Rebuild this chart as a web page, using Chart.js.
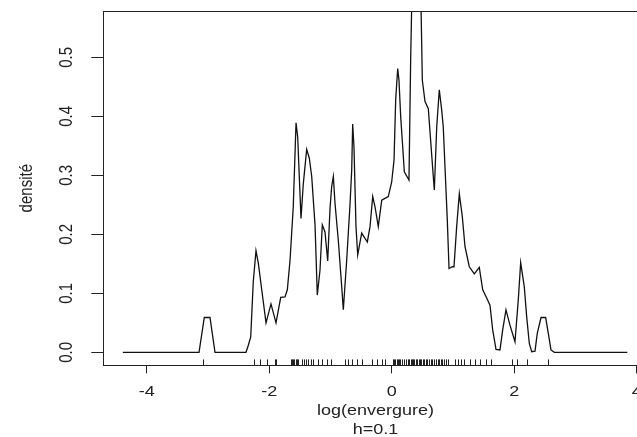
<!DOCTYPE html>
<html>
<head>
<meta charset="utf-8">
<script src="https://cdn.jsdelivr.net/npm/chart.js@4"></script>
<style>
  html, body { margin: 0; padding: 0; background: #fff; overflow: hidden; width: 637px; height: 437px; }
  #wrap { position: relative; width: 660px; height: 437px; }
  canvas { display: block; }
</style>
</head>
<body>
<div id="wrap"><canvas id="c" width="660" height="437"></canvas></div>
<script>
// Kernel density estimate of log(envergure), bandwidth h = 0.1
const densX = [
  -4.39, -3.146, -3.06, -2.967, -2.885, -2.379, -2.341, -2.302, -2.26, -2.216,
  -2.178, -2.122, -2.052, -1.971, -1.889, -1.812, -1.742, -1.704, -1.66, -1.607,
  -1.562, -1.535, -1.481, -1.443, -1.388, -1.345, -1.306, -1.252, -1.215, -1.171,
  -1.133, -1.089, -1.045, -1.007, -0.98, -0.953, -0.926, -0.872, -0.816, -0.79,
  -0.735, -0.681, -0.653, -0.637, -0.616, -0.583, -0.555, -0.49, -0.436, -0.398,
  -0.354, -0.31, -0.273, -0.219, -0.163, -0.109, -0.056, 0.0, 0.038, 0.065,
  0.098, 0.119, 0.147, 0.18, 0.206, 0.282, 0.31, 0.34, 0.397, 0.47,
  0.5, 0.544, 0.598, 0.679, 0.696, 0.735, 0.777, 0.816, 0.842, 0.882,
  0.908, 0.936, 0.989, 1.017, 1.061, 1.104, 1.153, 1.197, 1.267, 1.349,
  1.43, 1.486, 1.551, 1.605, 1.649, 1.703, 1.768, 1.812, 1.866, 1.931,
  2.013, 2.067, 2.106, 2.165, 2.204, 2.247, 2.286, 2.34, 2.377, 2.438,
  2.514, 2.557, 2.601, 2.655, 3.847
];
const densY = [
  0, 0, 0.059, 0.059, 0, 0, 0.012, 0.026, 0.12, 0.172,
  0.151, 0.106, 0.05, 0.082, 0.05, 0.093, 0.094, 0.106, 0.156, 0.247,
  0.389, 0.365, 0.227, 0.286, 0.344, 0.329, 0.298, 0.216, 0.097, 0.139,
  0.216, 0.204, 0.155, 0.244, 0.281, 0.298, 0.253, 0.19, 0.111, 0.072,
  0.156, 0.25, 0.309, 0.387, 0.348, 0.213, 0.165, 0.202, 0.193, 0.187,
  0.213, 0.264, 0.247, 0.213, 0.258, 0.261, 0.264, 0.289, 0.326, 0.428,
  0.481, 0.461, 0.399, 0.348, 0.306, 0.292, 0.498, 0.66, 0.72, 0.64,
  0.461, 0.425, 0.413, 0.298, 0.275, 0.382, 0.445, 0.411, 0.382, 0.286,
  0.224, 0.142, 0.145, 0.145, 0.213, 0.269, 0.23, 0.179, 0.145, 0.133,
  0.144, 0.106, 0.092, 0.08, 0.038, 0.005, 0.004, 0.038, 0.072, 0.046,
  0.018, 0.089, 0.152, 0.111, 0.06, 0.015, 0.001, 0.002, 0.032, 0.059,
  0.059, 0.032, 0.004, 0, 0
];

// Observations, drawn as a rug along the bottom of the frame
const rugX = [
  -3.076, -2.243, -2.15, -2.041, -1.905, -1.889, -1.649, -1.633, -1.611, -1.595,
  -1.562, -1.546, -1.525, -1.469, -1.432, -1.399, -1.362, -1.322, -1.28, -1.198,
  -1.143, -1.051, -0.996, -0.762, -0.709, -0.653, -0.571, -0.49, -0.327, -0.245,
  -0.163, -0.109, 0.026, 0.042, 0.059, 0.082, 0.103, 0.124, 0.136, 0.176,
  0.201, 0.233, 0.258, 0.282, 0.307, 0.331, 0.348, 0.372, 0.397, 0.413,
  0.438, 0.462, 0.478, 0.503, 0.527, 0.56, 0.584, 0.609, 0.642, 0.666,
  0.691, 0.723, 0.748, 0.772, 0.805, 0.829, 0.854, 0.887, 0.919, 1.033,
  1.082, 1.131, 1.18, 1.278, 1.36, 1.442, 1.535, 1.616, 1.959, 2.041,
  2.214, 2.557
];

const xTicks = [-4, -2, 0, 2, 4];
const yTicks = [0, 0.1, 0.2, 0.3, 0.4, 0.5];

const FONT = "'Liberation Sans', Arial, Helvetica, sans-serif";
const INK = '#222';

// The lettering of this figure is set a little wide: every text run is
// stretched horizontally (in page space) about its own anchor point.
const TEXT_STRETCH = 1.2;
const ctx2d = document.getElementById('c').getContext('2d');
const plainFillText = ctx2d.fillText;
ctx2d.fillText = function (text, x, y, maxWidth) {
  const m = this.getTransform();
  const p = m.transformPoint(new DOMPoint(x, y));
  this.save();
  this.setTransform(new DOMMatrix().translate(p.x, p.y).scale(TEXT_STRETCH, 1).translate(-p.x, -p.y).multiply(m));
  if (maxWidth === undefined) plainFillText.call(this, text, x, y);
  else plainFillText.call(this, text, x, y, maxWidth);
  this.restore();
};

const frame = {
  id: 'frame',
  afterDraw(chart) {
    const { ctx, chartArea: a } = chart;
    ctx.save();
    ctx.strokeStyle = INK;
    ctx.lineWidth = 1;
    ctx.strokeRect(Math.round(a.left) + 0.5, Math.round(a.top) + 0.5,
                   Math.round(a.right - a.left), Math.round(a.bottom - a.top));
    ctx.restore();
  }
};

const rug = {
  id: 'rug',
  afterDatasetsDraw(chart) {
    const { ctx, chartArea: a, scales } = chart;
    ctx.save();
    ctx.strokeStyle = INK;
    ctx.lineWidth = 1;
    ctx.beginPath();
    rugX.forEach(v => {
      const px = Math.round(scales.x.getPixelForValue(v)) + 0.5;
      ctx.moveTo(px, a.bottom);
      ctx.lineTo(px, a.bottom - 6);
    });
    ctx.stroke();
    ctx.restore();
  }
};

new Chart(ctx2d, {
  type: 'line',
  data: {
    datasets: [{
      data: densX.map((x, i) => ({ x, y: densY[i] })),
      borderColor: '#111',
      borderWidth: 1.3,
      pointRadius: 0,
      tension: 0,
      fill: false
    }]
  },
  options: {
    responsive: false,
    animation: false,
    devicePixelRatio: 1,
    layout: { padding: { left: 0, top: 11, right: 12.3, bottom: 0 } },
    plugins: { legend: { display: false }, tooltip: { enabled: false } },
    scales: {
      x: {
        type: 'linear',
        min: -4.709,
        max: 4.18,
        afterBuildTicks: s => { s.ticks = xTicks.map(v => ({ value: v })); },
        afterFit: s => { s.height = 71.6; s.paddingLeft = 0; s.paddingRight = 0; },
        border: { display: false },
        grid: { display: true, drawOnChartArea: false, drawTicks: true, tickLength: 8, tickColor: INK, lineWidth: 1 },
        ticks: {
          padding: 9,
          color: INK,
          font: { family: FONT, size: 15 },
          maxRotation: 0,
          callback: v => String(v)
        },
        title: {
          display: true,
          text: ['log(envergure)', 'h=0.1'],
          color: INK,
          font: { family: FONT, size: 15, lineHeight: '19px' },
          padding: { top: 0, bottom: -2 }
        }
      },
      y: {
        type: 'linear',
        min: -0.0222,
        max: 0.5785,
        afterBuildTicks: s => { s.ticks = yTicks.map(v => ({ value: v })); },
        afterFit: s => { s.width = 103.3; s.paddingTop = 0; s.paddingBottom = 0; },
        border: { display: false },
        grid: { display: true, drawOnChartArea: false, drawTicks: true, tickLength: 12, tickColor: INK, lineWidth: 1 },
        ticks: {
          padding: 13.4,
          color: INK,
          crossAlign: 'center',
          minRotation: 90,
          maxRotation: 90,
          font: { family: FONT, size: 15 },
          callback: v => Number(v).toFixed(1)
        },
        title: {
          display: true,
          text: 'densité',
          color: INK,
          font: { family: FONT, size: 15 },
          padding: { top: 18, bottom: 0 }
        }
      }
    }
  },
  plugins: [rug, frame]
});
</script>
</body>
</html>
